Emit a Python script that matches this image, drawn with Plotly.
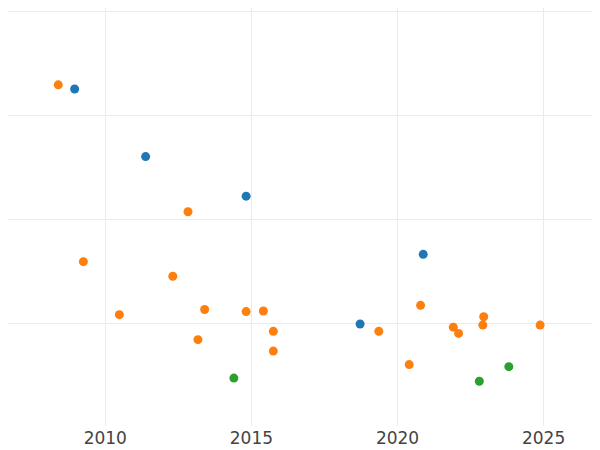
import plotly.graph_objects as go

# Series A (blue)
a_year = [2008.95, 2011.38, 2014.82, 2020.88, 2018.72]
a_val = [3.25, 2.60, 2.22, 1.66, 0.99]

# Series B (orange)
b_year = [2008.39, 2009.25, 2010.48, 2012.31, 2012.83, 2013.17, 2013.40, 2014.82,
          2015.41, 2015.75, 2015.75, 2019.36, 2020.40, 2020.79, 2021.91, 2022.09,
          2022.95, 2022.92, 2024.88]
b_val = [3.29, 1.59, 1.08, 1.45, 2.07, 0.84, 1.13, 1.11,
         1.115, 0.92, 0.73, 0.92, 0.60, 1.17, 0.96, 0.90,
         1.06, 0.98, 0.98]

# Series C (green)
c_year = [2014.40, 2022.80, 2023.81]
c_val = [0.47, 0.44, 0.58]

x_ticks = [2010, 2015, 2020, 2025]

fig = go.Figure()
for name, xs, ys, col in [("A", a_year, a_val, "#1f77b4"),
                          ("B", b_year, b_val, "#ff7f0e"),
                          ("C", c_year, c_val, "#2ca02c")]:
    fig.add_trace(go.Scatter(x=xs, y=ys, mode="markers", name=name,
                             marker=dict(color=col, size=9)))

fig.update_layout(
    width=592, height=442,
    margin=dict(l=0, r=0, t=0, b=24, autoexpand=False),
    plot_bgcolor="white", paper_bgcolor="white",
    showlegend=False,
    font=dict(family="DejaVu Sans", size=17, color="#444"),
)
fig.update_xaxes(range=[2006.67, 2026.93], tickvals=x_ticks,
                 showgrid=True, gridcolor="#EBEBEB", gridwidth=1,
                 zeroline=False, showline=False, ticks="")
fig.update_yaxes(range=[0.0096, 4.029], dtick=1, showticklabels=False,
                 showgrid=True, gridcolor="#EBEBEB", gridwidth=1,
                 zeroline=False, showline=False, ticks="")

fig.write_html("out.html")
